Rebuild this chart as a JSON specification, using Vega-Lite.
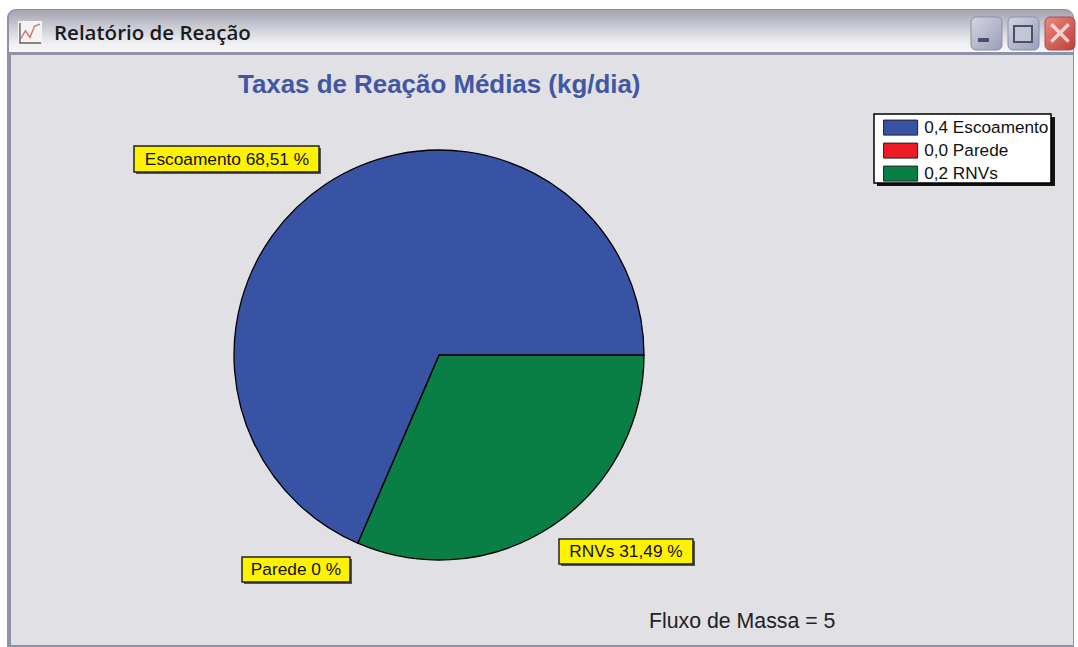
{"$schema":"https://vega.github.io/schema/vega-lite/v6.json","width":1078,"height":647,"padding":0,"autosize":{"type":"none"},"background":"#ffffff","view":{"stroke":null},"config":{"axis":{"disable":true},"font":"Liberation Sans"},
"title":{"text":"Taxas de Reação Médias (kg/dia)","anchor":"start","frame":"group","dx":238,"dy":99,"offset":0,"fontSize":25.9,"fontWeight":"bold","color":"#4257a3","font":"Liberation Sans"},
"datasets":{"reacao":[{"categoria":"RNVs","percentual":31.49,"ordem":1,"legenda":"0,2 RNVs","rotulo":"RNVs 31,49 %"},{"categoria":"Parede","percentual":0,"ordem":2,"legenda":"0,0 Parede","rotulo":"Parede 0 %"},{"categoria":"Escoamento","percentual":68.51,"ordem":3,"legenda":"0,4 Escoamento","rotulo":"Escoamento 68,51 %"}]},
"layer":[
{"data":{"values":[{}]},"mark":{"type":"rect","cornerRadiusTopLeft":9,"cornerRadiusTopRight":9,"fill":"#8f91a6"},"encoding":{"x":{"datum":7,"type":"quantitative","scale":{"domain":[0,1078],"range":[0,1078],"nice":false,"zero":false}},"x2":{"datum":1074},"y":{"datum":9,"type":"quantitative","scale":{"domain":[0,647],"range":[0,647],"nice":false,"zero":false}},"y2":{"datum":647}}},
{"data":{"values":[{}]},"mark":{"type":"rect","cornerRadiusTopLeft":8,"cornerRadiusTopRight":8,"fill":{"gradient":"linear","x1":0,"y1":0,"x2":0,"y2":1,"stops":[{"offset":0,"color":"#a3a4b2"},{"offset":0.35,"color":"#c5c6d0"},{"offset":0.8,"color":"#f0f0f3"},{"offset":1,"color":"#f7f7f8"}]}},"encoding":{"x":{"datum":9},"x2":{"datum":1073},"y":{"datum":10},"y2":{"datum":52}}},
{"data":{"values":[{}]},"mark":{"type":"rect","fill":"#e0e0e5"},"encoding":{"x":{"datum":11},"x2":{"datum":1073},"y":{"datum":55},"y2":{"datum":645}}},
{"data":{"values":[{}]},"mark":{"type":"text","text":"Relatório de Reação","align":"left","baseline":"middle","fontSize":20.5,"fontWeight":600,"font":"Open Sans","color":"#1a1a1a"},"encoding":{"x":{"datum":54},"y":{"datum":34}}},
{"data":{"values":[{}]},"mark":{"type":"rect","fill":"#f4f4f4"},"encoding":{"x":{"datum":18},"x2":{"datum":42},"y":{"datum":21},"y2":{"datum":45}}},
{"data":{"values":[{}]},"mark":{"type":"point","filled":false,"size":500,"stroke":"#222222","strokeWidth":1.4,"shape":"M-.9,-.9V.9H1"},"encoding":{"x":{"datum":30},"y":{"datum":33}}},
{"data":{"values":[{}]},"mark":{"type":"point","filled":false,"size":500,"stroke":"#cf3b3b","strokeWidth":1.4,"shape":"M-.84,.5L-.4,-.2L0,.4L.4,-.6L.9,-.8"},"encoding":{"x":{"datum":30},"y":{"datum":33}}},
{"data":{"values":[{}]},"mark":{"type":"rect","cornerRadius":5,"stroke":"#8a8ea6","fill":{"gradient":"linear","x1":0,"y1":0,"x2":1,"y2":1,"stops":[{"offset":0,"color":"#d4d6e2"},{"offset":1,"color":"#9a9eb8"}]}},"encoding":{"x":{"datum":971},"x2":{"datum":1002},"y":{"datum":17},"y2":{"datum":50}}},
{"data":{"values":[{}]},"mark":{"type":"rect","fill":"#4a5070"},"encoding":{"x":{"datum":978},"x2":{"datum":989},"y":{"datum":38},"y2":{"datum":42}}},
{"data":{"values":[{}]},"mark":{"type":"rect","cornerRadius":5,"stroke":"#8a8ea6","fill":{"gradient":"linear","x1":0,"y1":0,"x2":1,"y2":1,"stops":[{"offset":0,"color":"#d4d6e2"},{"offset":1,"color":"#9a9eb8"}]}},"encoding":{"x":{"datum":1008},"x2":{"datum":1039},"y":{"datum":17},"y2":{"datum":50}}},
{"data":{"values":[{}]},"mark":{"type":"rect","fill":"#c4c6d6","stroke":"#4a5070","strokeWidth":2},"encoding":{"x":{"datum":1014},"x2":{"datum":1032},"y":{"datum":26},"y2":{"datum":42}}},
{"data":{"values":[{}]},"mark":{"type":"rect","cornerRadius":5,"stroke":"#a05050","fill":{"gradient":"linear","x1":0,"y1":0,"x2":1,"y2":1,"stops":[{"offset":0,"color":"#e88a80"},{"offset":1,"color":"#c23c3c"}]}},"encoding":{"x":{"datum":1045},"x2":{"datum":1075},"y":{"datum":17},"y2":{"datum":50}}},
{"data":{"values":[{}]},"mark":{"type":"point","filled":false,"size":300,"stroke":"#ffffff","strokeWidth":3.5,"shape":"M-1,-1L1,1M-1,1L1,-1"},"encoding":{"x":{"datum":1060},"y":{"datum":33}}},
{"data":{"name":"reacao"},"mark":{"type":"arc","radius":205,"stroke":"#000000","strokeWidth":1.3},"encoding":{"x":{"datum":439},"y":{"datum":355},"theta":{"field":"percentual","type":"quantitative","stack":true,"scale":{"domain":[0,100],"range":[1.5708,7.854]}},"order":{"field":"ordem","type":"quantitative"},"color":{"field":"legenda","type":"nominal","sort":null,"scale":{"domain":["0,4 Escoamento","0,0 Parede","0,2 RNVs"],"range":["#3853a4","#ed1c24","#0a7f45"]},"legend":{"orient":"none","legendX":892,"legendY":119,"title":null,"padding":0,"symbolType":"M-2.27,-1H2.27V1H-2.27Z","symbolSize":225,"symbolStrokeColor":"#222222","symbolStrokeWidth":1,"symbolOpacity":1,"labelFontSize":17.2,"labelFont":"Liberation Sans","labelColor":"#111111","labelOffset":15,"rowPadding":3,"labelLimit":200}}}},
{"data":{"values":[{}]},"mark":{"type":"rect","fill":"#111111"},"encoding":{"x":{"datum":877},"x2":{"datum":1055},"y":{"datum":117},"y2":{"datum":186}}},
{"data":{"values":[{}]},"mark":{"type":"rect","fill":"#ffffff","stroke":"#000000","strokeWidth":1.5},"encoding":{"x":{"datum":874},"x2":{"datum":1051},"y":{"datum":114},"y2":{"datum":183}}},
{"data":{"values":[{}]},"mark":{"type":"rect","fill":"#555555"},"encoding":{"x":{"datum":136},"x2":{"datum":321},"y":{"datum":148},"y2":{"datum":174}}},
{"data":{"values":[{}]},"mark":{"type":"rect","fill":"#fff200","stroke":"#222222","strokeWidth":1.5},"encoding":{"x":{"datum":134},"x2":{"datum":319},"y":{"datum":146},"y2":{"datum":172}}},
{"data":{"name":"reacao"},"transform":[{"filter":"datum.categoria==='Escoamento'"}],"mark":{"type":"text","fontSize":17.3,"color":"#111111"},"encoding":{"x":{"datum":227},"y":{"datum":160},"text":{"field":"rotulo"}}},
{"data":{"values":[{}]},"mark":{"type":"rect","fill":"#555555"},"encoding":{"x":{"datum":244},"x2":{"datum":352},"y":{"datum":559},"y2":{"datum":584}}},
{"data":{"values":[{}]},"mark":{"type":"rect","fill":"#fff200","stroke":"#222222","strokeWidth":1.5},"encoding":{"x":{"datum":242},"x2":{"datum":350},"y":{"datum":557},"y2":{"datum":582}}},
{"data":{"name":"reacao"},"transform":[{"filter":"datum.categoria==='Parede'"}],"mark":{"type":"text","fontSize":17.3,"color":"#111111"},"encoding":{"x":{"datum":296},"y":{"datum":570},"text":{"field":"rotulo"}}},
{"data":{"values":[{}]},"mark":{"type":"rect","fill":"#555555"},"encoding":{"x":{"datum":561},"x2":{"datum":695},"y":{"datum":541},"y2":{"datum":566}}},
{"data":{"values":[{}]},"mark":{"type":"rect","fill":"#fff200","stroke":"#222222","strokeWidth":1.5},"encoding":{"x":{"datum":559},"x2":{"datum":693},"y":{"datum":539},"y2":{"datum":564}}},
{"data":{"name":"reacao"},"transform":[{"filter":"datum.categoria==='RNVs'"}],"mark":{"type":"text","fontSize":17.3,"color":"#111111"},"encoding":{"x":{"datum":626},"y":{"datum":552},"text":{"field":"rotulo"}}},
{"data":{"values":[{}]},"mark":{"type":"text","text":"Fluxo de Massa = 5","align":"left","fontSize":21.3,"color":"#222222"},"encoding":{"x":{"datum":649},"y":{"datum":622}}}
]}
